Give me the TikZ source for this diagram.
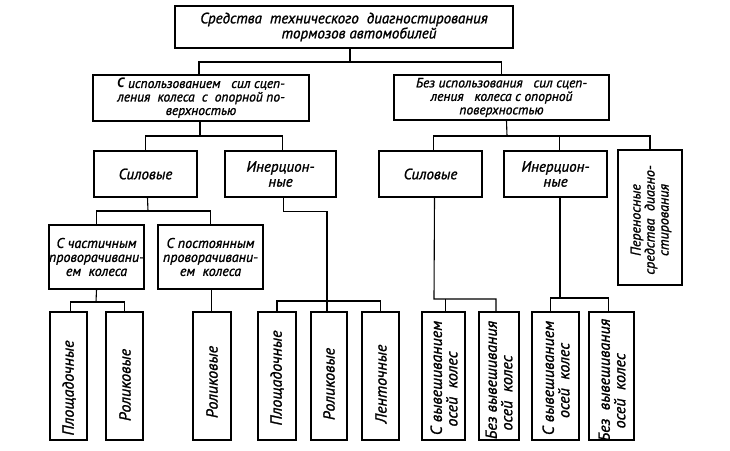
\documentclass[tikz,border=0pt]{standalone}
\usepackage{fontspec}
\setmainfont{PT Sans}[ItalicFeatures={FakeBold=1.3}]
\begin{document}
\begin{tikzpicture}[x=1pt,y=-1pt,
  box/.style={draw,line width=1.8pt,inner sep=0pt,font=\itshape\fontsize{14}{14}\selectfont,align=center},
  bigbox/.style={box,font=\itshape\fontsize{15}{15}\selectfont},
  vtext/.style={rotate=90,inner sep=0pt,font=\itshape\fontsize{16}{15.5}\selectfont,align=left},
  conn/.style={line width=1.1pt}]
\fill[white] (0,0) rectangle (730,450);
\useasboundingbox (0,0) rectangle (730,450);
% level 0
\node[bigbox,minimum width=338pt,minimum height=42pt] (top) at (344,27)
  {Средства\ \ технического\ \ диагностирования\\\hspace*{2em}тормозов\ автомобилей};
% level 1
\node[box,minimum width=216pt,minimum height=46pt,font=\itshape\fontsize{13.5}{13.5}\selectfont] (l2l) at (201,98)
  {\textbf{С} использованием\ \ \ сил сцеп-\\ления\ \ колеса\ \ с\ \ опорной по-\\верхностью};
\node[box,minimum width=215pt,minimum height=45pt,font=\itshape\fontsize{13.5}{13.5}\selectfont] (l2r) at (501.5,97.5)
  {Без\ использования\ \ \ сил сцеп-\\ления\ \ \ колеса с опорной\\поверхностью};
% level 2
\node[bigbox,minimum width=103pt,minimum height=46pt] (sill) at (145.5,174) {Силовые};
\node[bigbox,minimum width=111pt,minimum height=46pt] (inl) at (280.5,174) {Инерцион-\\ные};
\node[bigbox,minimum width=103pt,minimum height=46pt] (silr) at (430.5,174) {Силовые};
\node[bigbox,minimum width=103pt,minimum height=46pt] (inr) at (555.5,174) {Инерцион-\\ные};
\node[box,minimum width=64pt,minimum height=135pt] (port) at (650,217.5) {};
\node[vtext,align=center,font=\itshape\fontsize{14}{14}\selectfont] (portt) at (651,220) {Переносные\\средства\ \ диагно-\\стирования};
% level 3
\node[box,minimum width=93pt,minimum height=64pt] (chast) at (96.5,257) {С частичным\\проворачивани-\\ем\ \ колеса};
\node[box,minimum width=105pt,minimum height=64pt] (post) at (210.5,257) {С постоянным\\проворачивани-\\ем\ \ колеса};
% bottom row
\node[box,minimum width=37pt,minimum height=128pt] (b1) at (68.5,376) {};
\node[box,minimum width=37pt,minimum height=128pt] (b2) at (124.5,376) {};
\node[box,minimum width=38pt,minimum height=128pt] (b3) at (212,376) {};
\node[box,minimum width=38pt,minimum height=128pt] (b4) at (277,376) {};
\node[box,minimum width=36pt,minimum height=128pt] (b5) at (329,376) {};
\node[box,minimum width=37pt,minimum height=128pt] (b6) at (380.5,376) {};
\node[box,minimum width=43pt,minimum height=128pt] (b7) at (443.5,376) {};
\node[box,minimum width=40pt,minimum height=128pt] (b8) at (499,376) {};
\node[box,minimum width=47pt,minimum height=128pt] (b9) at (555.5,376) {};
\node[box,minimum width=45pt,minimum height=128pt] (b10) at (611.5,376) {};
\node[vtext] (t1) at (69,388) {Площадочные};
\node[vtext] (t2) at (125,385) {Роликовые};
\node[vtext] (t3) at (212,382) {Роликовые};
\node[vtext] (t4) at (277,378) {Площадочные};
\node[vtext] (t5) at (329,384) {Роликовые};
\node[vtext] (t6) at (381,384) {Ленточные};
\node[vtext] (t7) at (444,378) {С вывешиванием\\\ \ осей\ \ колес};
\node[vtext] (t8) at (499,380) {Без вывешивания\\\ \ осей\ \ колес};
\node[vtext] (t9) at (556,378) {С вывешиванием\\\ \ \ \ осей\ \ колес};
\node[vtext] (t10) at (612,380) {Без\ \ вывешивания\\\ \ \ осей\ \ колес};
% connectors
\coordinate (j0) at (350,62);
\draw[conn] ([xshift=6pt]top.south) -- (j0);
\draw[conn] ([xshift=-2pt]l2l.north) |- (j0) -| (l2r.north);
\coordinate (j1) at (200,136);
\draw[conn] ([xshift=-1pt]l2l.north |- l2l.south) -- (j1);
\draw[conn] (sill.north) |- (j1) -| ([xshift=2pt]inl.north);
\coordinate (j2) at (507,136);
\draw[conn] ([xshift=5pt]l2r.south) -- (j2);
\draw[conn] ([xshift=3pt]silr.north) |- (j2) -| (port.north);
\draw[conn] ([xshift=4pt]inr.north) -- ([xshift=4pt]inr.north |- j2);
\coordinate (j3) at (148,211);
\draw[conn] ([xshift=2pt]sill.south) -- (j3);
\draw[conn] (chast.north) |- (j3) -| (post.north);
\coordinate (k) at (327,301);
\draw[conn] ([xshift=3pt]inl.south) -- ++(0,14) -| (k);
\draw[conn] (b4.north) |- (k) -| (b6.north);
\draw[conn] (k) -- (k |- b5.north);
\coordinate (j4) at (96,302);
\draw[conn] (chast.south) -- (j4);
\draw[conn] ([xshift=2pt]b1.north) |- (j4) -| (b2.north);
\draw[conn] ([xshift=1pt]post.south) -- ([xshift=1pt]post.south |- b3.north);
\coordinate (j5) at (434,299);
\draw[conn] ([xshift=4pt]silr.south) -- (j5) -| ([xshift=-3pt]b8.north);
\draw[conn] ([xshift=2pt]b7.north) -- ([xshift=2pt]b7.north |- j5);
\coordinate (j6) at (560,298);
\draw[conn] ([xshift=4.5pt]inr.south) -- (j6);
\draw[conn] ([xshift=-5pt]b9.north) |- (j6) -| ([xshift=-3pt]b10.north);
\end{tikzpicture}
\end{document}
